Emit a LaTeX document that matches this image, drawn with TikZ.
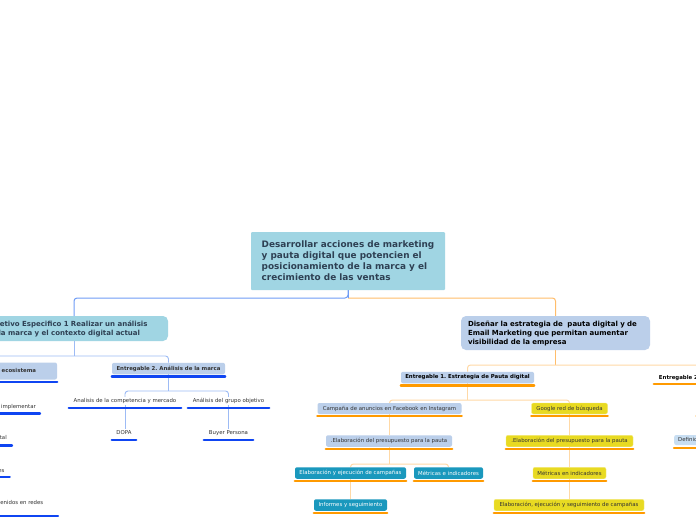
\documentclass[tikz,border=0pt]{standalone}
\usepackage{fontspec}
\setmainfont{DejaVu Sans}
\usetikzlibrary{backgrounds}
\frenchspacing
\definecolor{rootblue}{HTML}{A0D5E3}
\definecolor{lblue}{HTML}{BBCFEA}
\definecolor{defblue}{HTML}{C8DEF2}
\definecolor{tealbox}{HTML}{1A98BD}
\definecolor{yel}{HTML}{E8DA22}
\definecolor{yeledge}{HTML}{F3EA7A}
\definecolor{ublue}{HTML}{0F45F2}
\definecolor{uorange}{HTML}{FF9A00}
\definecolor{cblue}{HTML}{6F9CF6}
\definecolor{cbluel}{HTML}{9DBBF5}
\definecolor{corange}{HTML}{FFBD6B}
\definecolor{cpale}{HTML}{FFD9A6}
\definecolor{txtroot}{HTML}{2E4053}
\definecolor{txtdark}{HTML}{333333}
\newcommand{\fsroot}{\fontsize{8.9}{11}\selectfont\bfseries}
\newcommand{\fsmid}{\fontsize{7}{9}\selectfont\bfseries}
\newcommand{\fssm}{\fontsize{5.4}{6.5}\selectfont}
\newcommand{\fssmb}{\fontsize{5.4}{6.5}\selectfont\bfseries}
\begin{document}
\begin{tikzpicture}[x=1pt,y=-1pt,
  every node/.style={inner sep=0pt, font=\fssm, text=txtdark},
  bx/.style={rounded corners=2pt, align=center},
  lb/.style={bx, fill=lblue},
  tl/.style={bx, fill=tealbox, text=white},
  yl/.style={bx, fill=yel, draw=yeledge, line width=0.4pt},
  plain/.style={align=center, minimum height=8pt},
  bigbox/.style={fill=rootblue, align=left, font=\fsroot, text=txtroot, rounded corners=1pt},
  midbox/.style={align=left, font=\fsmid, rounded corners=5pt, inner xsep=7pt, text width=175pt},
  ulb/.style={line width=2.4pt, draw=ublue, line cap=round},
  ulo/.style={line width=2.4pt, draw=uorange, line cap=round},
  cb/.style={draw=cblue, line width=1pt, rounded corners=3pt},
  cbl/.style={draw=cbluel, line width=0.9pt, rounded corners=3pt},
  co/.style={draw=corange, line width=1pt, rounded corners=3pt},
  cop/.style={draw=cpale, line width=1pt, rounded corners=3pt}]
\useasboundingbox (0,0) rectangle (696,520);
\clip (0,0) rectangle (696,520);

% root
\node[bigbox, minimum width=194pt, minimum height=58pt] (root) at (348,261)
 {Desarrollar acciones de marketing\\y pauta digital que potencien el\\posicionamiento de la marca y el\\crecimiento de las ventas};

% left branch
\node[midbox, fill=rootblue, text=txtroot, inner xsep=6.5pt, minimum width=188pt, minimum height=25pt] (l1) at (74,328.5)
 {Objetivo Especifico 1 Realizar un análisis\\de la marca y el contexto digital actual};
\node[lb, font=\fssmb, minimum width=156pt, minimum height=17pt] (eco) at (-21,371)
 {Entregable 1. Análisis del ecosistema};
\node[lb, font=\fssmb, minimum width=113pt, minimum height=11.5pt] (e2l) at (168.5,368.5)
 {Entregable 2. Análisis de la marca};
\node[plain, minimum width=112pt] (ac) at (125,401) {Analisis de la competencia y mercado};
\node[plain, minimum width=81pt] (ag) at (228.5,401) {Análisis del grupo objetivo};
\node[plain, minimum width=24pt] (dopa) at (124,433) {DOPA};
\node[plain, minimum width=49pt] (bp) at (228.5,433) {Buyer Persona};

\node[anchor=east] (lc1) at (36,407) {Estrategias a implementar};
\node[anchor=east] (lc2) at (7,438.5) {Ecosistema digital};
\node[anchor=east] (lc3) at (4.7,470.5) {Redes sociales};
\node[anchor=east] (lc4) at (43.5,502.5) {Análisis de contenidos en redes};

% right branch
\node[midbox, fill=lblue, text=black, minimum width=189pt, minimum height=34pt] (r1) at (555.5,333)
 {Diseñar la estrategia de~ pauta digital y de\\Email Marketing que permitan aumentar\\visibilidad de la empresa};
\node[lb, font=\fssmb, text=black, minimum width=133pt, minimum height=11.5pt] (e1) at (467.5,377.5)
 {Entregable 1. Estrategia de Pauta digital};
\node[plain, font=\fssmb, text=black, minimum width=145pt] (e2r) at (726.5,378)
 {Entregable 2. Estrategia de Email Marketing};
\coordinate (e2c1) at (696.5,416);
\node[bx, fill=defblue, anchor=west, inner xsep=4pt, minimum height=10pt] (def) at (674,440)
 {Definición de la estrategia de Email};

\node[lb, minimum width=144pt, minimum height=11pt] (camp) at (389.5,408.5) {Campaña de anuncios en Facebook en Instagram};
\node[yl, minimum width=76pt, minimum height=11pt] (goog) at (569.5,408.5) {Google red de búsqueda};
\node[lb, minimum width=126pt, minimum height=11.5pt] (pres1) at (389,441) {.Elaboración del presupuesto para la pauta};
\node[yl, minimum width=127pt, minimum height=11.5pt] (pres2) at (569.5,441) {.Elaboración del presupuesto para la pauta};
\node[tl, minimum width=111pt, minimum height=11.5pt] (elab1) at (350.5,473) {Elaboración y ejecución de campañas};
\node[tl, minimum width=69pt, minimum height=11.5pt] (met1) at (448.5,473) {Métricas e indicadores};
\node[tl, minimum width=73pt, minimum height=11.5pt] (inf) at (350.5,505) {Informes y seguimiento};
\node[yl, minimum width=73pt, minimum height=11.5pt] (met2) at (569.5,473) {Métricas en indicadores};
\node[yl, minimum width=150pt, minimum height=11.5pt] (elab2) at (569,505) {Elaboración, ejecución y seguimiento de campañas};

% connectors
\begin{scope}[on background layer]
\fill[white] (0,0) rectangle (696,520);
\draw[cb] (root.south) -- (root.south |- 0,298) -- (l1.north |- 0,298) -- (l1.north);
\draw[co] (root.south |- 0,298) -- (r1.north |- 0,298) -- (r1.north);
\draw[cb] (root.south) -- (root.south |- 0,298);
% left
\draw[cbl] (l1.south) -- (l1.south |- 0,356);
\draw[cbl] (eco.north) -- (eco.north |- 0,356) -- (e2l.north |- 0,356) -- (e2l.north);
\draw[cbl] (e2l.south) -- (e2l.south |- 0,391);
\draw[cbl] (ac.north) -- (ac.north |- 0,391) -- (ag.north |- 0,391) -- (ag.north);
\draw[cbl] (ac.south) -- (ac.south |- dopa.north);
\draw[cbl] (ag.south) -- (bp.north);
% right
\draw[co] (r1.south) -- (r1.south |- 0,365);
\draw[cop] (e1.north) -- (e1.north |- 0,365) -- (e2r.north |- 0,365) -- (e2r.north);
\draw[cop] (e1.south) -- (e1.south |- 0,400);
\draw[cop] (camp.north) -- (camp.north |- 0,400) -- (goog.north |- 0,400) -- (goog.north);
\draw[cop] (camp.south) -- (camp.south |- pres1.north);
\draw[cop] (pres1.south) -- (pres1.south |- 0,464);
\draw[cop] (elab1.north) -- (elab1.north |- 0,464) -- (met1.north |- 0,464) -- (met1.north);
\draw[cop] (elab1.south) -- (inf.north);
\draw[cop] (goog.south) -- (goog.south |- pres2.north);
\draw[cop] (pres2.south) -- (pres2.south |- met2.north);
\draw[cop] (met2.south) -- (met2.south |- elab2.north);
\end{scope}

% underlines
\foreach \n in {e1,camp,goog,pres1,pres2,elab1,met1,inf,met2,elab2,e2r}
  \draw[ulo] ([yshift=-2pt]\n.south west) -- ([yshift=-2pt]\n.south east);
\draw[ulo] ([yshift=-2.5pt]def.south west) -- ([yshift=-2.5pt,xshift=40pt]def.south east);
\draw[ulo] (e2c1) -- ++(30,0);
\foreach \n in {eco,e2l}
  \draw[ulb] ([yshift=-2pt]\n.south west) -- ([yshift=-2pt]\n.south east);
\foreach \n in {ac,ag,dopa,bp}
  \draw[ulb] ([yshift=-3pt]\n.south west) -- ([yshift=-3pt]\n.south east);
\draw[ulb] ([xshift=4pt,yshift=-3.5pt]lc1.south east) -- ++(-80,0);
\draw[ulb] ([xshift=5pt,yshift=-4pt]lc2.south east) -- ++(-80,0);
\draw[ulb] ([xshift=5pt,yshift=-4pt]lc3.south east) -- ++(-80,0);
\draw[ulb] ([xshift=14.5pt,yshift=-11pt]lc4.south east) -- ++(-100,0);
\end{tikzpicture}
\end{document}
